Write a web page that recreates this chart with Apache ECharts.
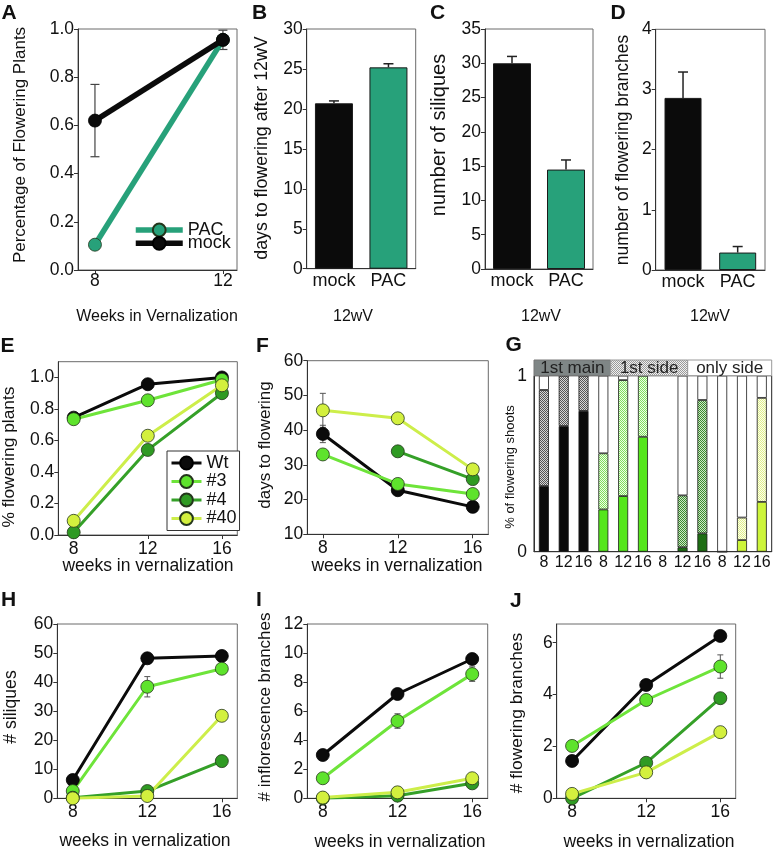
<!DOCTYPE html>
<html><head><meta charset="utf-8">
<script src="https://cdn.jsdelivr.net/npm/echarts@6/dist/echarts.min.js"></script>
<style>html,body{margin:0;padding:0;background:#fff}#c{width:774px;height:850px}</style>
</head><body><div id="c"></div>
<script>
// ---------------- data ----------------
const aWeeks = [8, 12];
const aMock = [0.62, 0.955];
const aMockErr = [0.15, 0.04];
const aPAC = [0.105, 0.955];
const aTicks = [0, 0.2, 0.4, 0.6, 0.8, 1.0];

const treatCats = ['mock', 'PAC'];
const bDays = [20.7, 25.2];
const bDaysErr = [0.3, 0.45];
const cSiliques = [30.0, 14.5];
const cSiliquesErr = [1.0, 1.4];
const dBranches = [2.86, 0.29];
const dBranchesErr = [0.43, 0.1];

const weeks = [8, 12, 16];
const lineNames = ['Wt', '#3', '#4', '#40'];
const eTicks = [0, 0.2, 0.4, 0.6, 0.8, 1.0];
const eWt = [0.745, 0.957, 1.0];
const e3 = [0.735, 0.855, 0.985];
const e4 = [0.017, 0.54, 0.9];
const e40 = [0.09, 0.63, 0.95];

const fWt = [38.9, 22.7, 17.9];
const fWtErr = [2.5, 0.8, 0.6];
const f3 = [33.0, 24.5, 21.6];
const f4 = [null, 33.9, 25.9];
const f40 = [45.7, 43.4, 28.7];
const f40Err = [4.9, 0.8, 1.0];

const hWt = [6.3, 48.2, 49.0];
const h3 = [2.5, 38.4, 44.6];
const h3Err = [0.5, 3.5, 1.0];
const h4 = [0.2, 2.5, 12.8];
const h40 = [0, 0.8, 28.4];

const iWt = [2.98, 7.18, 9.59];
const i3 = [1.38, 5.32, 8.55];
const i3Err = [0.2, 0.5, 0.5];
const i4 = [0, 0.18, 1.03];
const i40 = [0.05, 0.41, 1.38];

const jTicks = [0, 2, 4, 6];
const jWt = [1.44, 4.37, 6.26];
const j3 = [2.02, 3.79, 5.08];
const j3Err = [0.2, 0.2, 0.45];
const j4 = [0, 1.37, 3.86];
const j40 = [0.17, 1.0, 2.55];

const gWeekLabels = ['8','12','16','8','12','16','8','12','16','8','12','16'];
const gLine = ['Wt','Wt','Wt','#3','#3','#3','#4','#4','#4','#40','#40','#40'];
const gMain = [0.373, 0.714, 0.80, 0.24, 0.316, 0.653, null, 0.025, 0.104, 0, 0.066, 0.283];
const gSide = [0.546, 0.286, 0.20, 0.319, 0.659, 0.347, null, 0.295, 0.758, 0, 0.128, 0.591];
const gOnly = [0.081, 0, 0, 0.441, 0.025, 0, null, 0.68, 0.138, 1.0, 0.806, 0.126];
const gGroups = ['1st main', '1st side', 'only side'];

// ---------------- style ----------------
const FF = "'Liberation Sans', Arial, Helvetica, sans-serif";
const FS = 17.5;
const TEAL = '#27a17a';
const MARK = {'Wt':'#0b0b0b', '#3':'#5ee32c', '#4':'#2f9a23', '#40':'#d3f03e'};
const LINEC = {'Wt':'#0b0b0b', '#3':'#6ee43a', '#4':'#35a028', '#40':'#cdee4a'};
const GMAIN = {'Wt':'#0b0b0b', '#3':'#55e61c', '#4':'#1e6e14', '#40':'#cdf53a'};

function checker(c1, c2){
  const cv = document.createElement('canvas'); cv.width = 2; cv.height = 2;
  const x = cv.getContext('2d');
  x.fillStyle = c2; x.fillRect(0,0,2,2);
  x.fillStyle = c1; x.fillRect(0,0,1,1); x.fillRect(1,1,1,1);
  return {image: cv, repeat: 'repeat'};
}
const GSIDE = {'Wt':checker('#555','#d6d6d6'), '#3':checker('#7ee25a','#eefaea'), '#4':checker('#3a8c2e','#cfe8c8'), '#40':checker('#e0f08a','#fcfdf0')};

function grid(g){ return Object.assign({show:true, borderColor:'#6a6a6a', borderWidth:1, backgroundColor:'transparent', containLabel:false, outerBoundsMode:'none'}, g); }

function vAxis(gi, min, max, extra){
  const a = {type:'value', gridIndex:gi, min:min, max:max, splitLine:{show:false},
    axisLine:{show:true, onZero:false, lineStyle:{color:'#333', width:1}},
    axisTick:{show:true, length:4, inside:false, lineStyle:{color:'#333', width:1}},
    axisLabel:{fontFamily:FF, fontSize:FS, color:'#111', margin:4}};
  if (extra) for (const k in extra) {
    if (a[k] && typeof extra[k] === 'object' && !Array.isArray(extra[k])) Object.assign(a[k], extra[k]);
    else a[k] = extra[k];
  }
  return a;
}
function catAxis(gi, data, extra){
  const a = {type:'category', gridIndex:gi, data:data,
    axisLine:{show:true, onZero:false, lineStyle:{color:'#333', width:1}},
    axisTick:{show:false},
    axisLabel:{fontFamily:FF, fontSize:18, color:'#111', margin:3, interval:0}};
  if (extra) for (const k in extra) {
    if (a[k] && typeof extra[k] === 'object' && !Array.isArray(extra[k])) Object.assign(a[k], extra[k]);
    else a[k] = extra[k];
  }
  return a;
}

function errBars(ai, xs, ys, es, capW, upOnly, color, lw){
  const data = xs.map((x,i)=>[x, ys[i], es[i]]).filter(d => d[1] != null && d[2] > 0);
  return {type:'custom', xAxisIndex:ai, yAxisIndex:ai, data:data, z: upOnly ? 5 : 1, silent:true,
    renderItem:function(p, api){
      const x = api.value(0), y = api.value(1), e = api.value(2);
      const top = api.coord([x, y + e]);
      const bot = api.coord([x, upOnly ? y : y - e]);
      const st = {stroke:color, lineWidth:lw};
      const ch = [
        {type:'line', shape:{x1:top[0], y1:top[1], x2:bot[0], y2:bot[1]}, style:st},
        {type:'line', shape:{x1:top[0]-capW/2, y1:top[1], x2:top[0]+capW/2, y2:top[1]}, style:st}];
      if (!upOnly) ch.push({type:'line', shape:{x1:bot[0]-capW/2, y1:bot[1], x2:bot[0]+capW/2, y2:bot[1]}, style:st});
      return {type:'group', children:ch};
    }};
}

function lineSer(name, ai, xs, ys, color, lineColor, lw, size){
  return {type:'line', name:name, xAxisIndex:ai, yAxisIndex:ai,
    data: xs.map((w,i)=>[w, ys[i]]).filter(d => d[1] != null),
    symbol:'circle', symbolSize:size, showSymbol:true,
    lineStyle:{color:lineColor, width:lw},
    itemStyle:{color:color, borderColor: (name==='Wt'||name==='mock') ? '#000' : '#24361c', borderWidth:0.8},
    emphasis:{disabled:true}, z:2};
}

function barSer(ai, vals, width){
  return {type:'bar', xAxisIndex:ai, yAxisIndex:ai, barWidth:width, z:2,
    data: vals.map((v,i)=>({value:v, itemStyle:{color: i ? TEAL : '#0b0b0b'}})),
    itemStyle:{borderColor:'#1a1a1a', borderWidth:1}, emphasis:{disabled:true}};
}

const grids = [
  grid({left:78, top:29, width:159, height:241}),        // A 0
  grid({left:306.7, top:29, width:109, height:239.7}),   // B 1
  grid({left:485, top:29, width:108, height:240}),       // C 2
  grid({left:655.7, top:29.3, width:109.3, height:240.7}), // D 3
  grid({left:58.3, top:361.7, width:179, height:173.3}), // E 4
  grid({left:307.3, top:360.7, width:181, height:173.6}),// F 5
  grid({left:534, top:375.7, width:237.7, height:176, borderColor:'#222'}), // G 6
  grid({left:57.3, top:624, width:180, height:174.3}),   // H 7
  grid({left:307.3, top:624, width:180.4, height:174.3}),// I 8
  grid({left:556.7, top:624, width:179, height:174.3})   // J 9
];

const XMIN = 7.17, XMAX = 16.83;
const wkAxis = gi => vAxis(gi, XMIN, XMAX, {axisTick:{customValues:weeks}, axisLabel:{customValues:weeks, margin:5}});

const xAxes = [
  vAxis(0, 7.47, 12.44, {axisTick:{customValues:aWeeks}, axisLabel:{customValues:aWeeks, margin:2}}),
  catAxis(1, treatCats), catAxis(2, treatCats), catAxis(3, treatCats),
  wkAxis(4), wkAxis(5),
  catAxis(6, gWeekLabels.map((w,i)=>gLine[i]+' '+w), {axisLabel:{fontSize:16, margin:3, interval:0, formatter:(v,i)=>gWeekLabels[i]}}),
  wkAxis(7), wkAxis(8), wkAxis(9)
];
const yAxes = [
  vAxis(0, 0, 1, {interval:0.2, axisLabel:{formatter:v=>v.toFixed(1)}}),
  vAxis(1, 0, 30, {interval:5}),
  vAxis(2, 0, 35, {interval:5}),
  vAxis(3, 0, 4, {interval:1}),
  vAxis(4, 0, 1.1, {axisTick:{customValues:eTicks}, axisLabel:{customValues:eTicks, formatter:v=>v.toFixed(1)}}),
  vAxis(5, 10, 60, {interval:10}),
  vAxis(6, 0, 1, {interval:1, axisTick:{show:false}, axisLabel:{margin:7}}),
  vAxis(7, 0, 60, {interval:10}),
  vAxis(8, 0, 12, {interval:2}),
  vAxis(9, 0, 6.72, {axisTick:{customValues:jTicks}, axisLabel:{customValues:jTicks}})
];

const series = [];
// A
series.push(errBars(0, aWeeks, aMock, aMockErr, 9, false, '#444', 1.2));
series.push(lineSer('PAC', 0, aWeeks, aPAC, TEAL, TEAL, 5.5, 13));
series.push(lineSer('mock', 0, aWeeks, aMock, '#0b0b0b', '#0b0b0b', 5.5, 13));
// B, C, D
series.push(barSer(1, bDays, 38)); series.push(errBars(1, [0,1], bDays, bDaysErr, 10, true, '#222', 1.5));
series.push(barSer(2, cSiliques, 38)); series.push(errBars(2, [0,1], cSiliques, cSiliquesErr, 10, true, '#222', 1.5));
series.push(barSer(3, dBranches, 37)); series.push(errBars(3, [0,1], dBranches, dBranchesErr, 10, true, '#222', 1.5));
// line panels
const panels = [
  {ai:4, vals:[eWt, e3, e4, e40], errs:[]},
  {ai:5, vals:[fWt, f3, f4, f40], errs:[[fWt, fWtErr], [f40, f40Err]]},
  {ai:7, vals:[hWt, h3, h4, h40], errs:[[h3, h3Err]]},
  {ai:8, vals:[iWt, i3, i4, i40], errs:[[i3, i3Err]]},
  {ai:9, vals:[jWt, j3, j4, j40], errs:[[j3, j3Err]]}
];
panels.forEach(p => {
  p.errs.forEach(e => series.push(errBars(p.ai, weeks, e[0], e[1], 6, false, '#555', 1)));
  p.vals.forEach((v, k) => {
    const n = lineNames[k];
    series.push(lineSer(n, p.ai, weeks, v, MARK[n], LINEC[n], 3, 13));
  });
});
// G stacked bars
const gBar = (vals, colorFn) => ({type:'bar', xAxisIndex:6, yAxisIndex:6, stack:'g', barWidth:10, z:2,
  data: vals.map((v,i)=> v == null ? '-' : {value:v, itemStyle:{color: colorFn(i)}}),
  itemStyle:{borderColor:'#1a1a1a', borderWidth:0.8}, emphasis:{disabled:true}});
series.push(gBar(gMain, i => GMAIN[gLine[i]]));
series.push(gBar(gSide, i => GSIDE[gLine[i]]));
series.push(gBar(gOnly, i => '#ffffff'));

// ---------------- texts ----------------
function T(text, x, y, size, o){
  o = o || {};
  return {type:'text', x:x, y:y, rotation:o.rot||0, z:50, silent:true,
    style:{text:text, x:0, y:0, fontFamily:FF, fontSize:size, fontWeight:o.bold?'bold':'normal',
      fill:o.fill||'#111', align:o.align||'center', verticalAlign:'middle'}};
}
const R = Math.PI/2;
const graphic = [
  T('A', 1.5, 13, 21, {bold:true, align:'left'}),
  T('B', 252, 13, 21, {bold:true, align:'left'}),
  T('C', 430, 13, 21, {bold:true, align:'left'}),
  T('D', 610.5, 13, 21, {bold:true, align:'left'}),
  T('E', 0.5, 346, 21, {bold:true, align:'left'}),
  T('F', 256, 346, 21, {bold:true, align:'left'}),
  T('G', 505.5, 345, 21, {bold:true, align:'left'}),
  T('H', 1, 600.5, 21, {bold:true, align:'left'}),
  T('I', 256, 600.5, 21, {bold:true, align:'left'}),
  T('J', 510, 601, 21, {bold:true, align:'left'}),
  T('Percentage of Flowering Plants', 20, 145, 17, {rot:R}),
  T('days to flowering after 12wV', 262.5, 148, 17.8, {rot:R}),
  T('number of siliques', 439, 135, 20, {rot:R}),
  T('number of flowering branches', 623.5, 150, 17.5, {rot:R}),
  T('% flowering plants', 9.5, 457, 17.4, {rot:R}),
  T('days to flowering', 265.5, 445, 17, {rot:R}),
  T('% of flowering shoots', 510, 467, 13, {rot:R}),
  T('# siliques', 11, 707, 17.6, {rot:R}),
  T('# inflorescence branches', 265.5, 707, 17, {rot:R}),
  T('# flowering branches', 517.5, 713, 17.4, {rot:R}),
  T('Weeks in Vernalization', 157, 317, 16),
  T('12wV', 353, 317, 16), T('12wV', 541, 317, 16), T('12wV', 710, 317, 16),
  T('weeks in vernalization', 148, 566, 17.5),
  T('weeks in vernalization', 397, 566, 17.5),
  T('weeks in vernalization', 145, 841, 17.5),
  T('weeks in vernalization', 400, 842, 17.5),
  T('weeks in vernalization', 649, 842, 17.5),
  // G header band
  {type:'rect', shape:{x:534, y:360, width:76.7, height:15.7}, style:{fill:'#7f8686', stroke:'#777', lineWidth:1}, z:40, silent:true},
  {type:'rect', shape:{x:610.7, y:360, width:77, height:15.7}, style:{fill:checker('#9a9a9a','#f0f0f0'), stroke:'#999', lineWidth:1}, z:40, silent:true},
  {type:'rect', shape:{x:687.7, y:360, width:84, height:15.7}, style:{fill:'#ffffff', stroke:'#999', lineWidth:1}, z:40, silent:true},
  T(gGroups[0], 572.3, 368.5, 17, {fill:'#222'}),
  T(gGroups[1], 649.2, 368.5, 17, {fill:'#222'}),
  T(gGroups[2], 729.7, 368.5, 17, {fill:'#222'})
];

const legendBase = {selectedMode:false, itemGap:0, padding:0, itemWidth:47, itemHeight:16,
  lineStyle:{width:5.5}, textStyle:{fontFamily:FF, fontSize:18, color:'#111', lineHeight:18}};

const option = {
  animation:false,
  backgroundColor:'#ffffff',
  grid: grids,
  xAxis: xAxes,
  yAxis: yAxes,
  series: series,
  legend: [
    Object.assign({}, legendBase, {data:['PAC'], left:133, top:221}),
    Object.assign({}, legendBase, {data:['mock'], left:133, top:234.3}),
    {data:lineNames, selectedMode:false, orient:'vertical', left:167, top:451, padding:[3,3,3,3], itemGap:0.5,
     itemWidth:30, itemHeight:16, lineStyle:{width:3}, backgroundColor:'#fff', borderColor:'#333', borderWidth:1,
     textStyle:{fontFamily:FF, fontSize:18, color:'#111', lineHeight:17.2}}
  ],
  graphic: graphic
};
const chart = echarts.init(document.getElementById('c'), null, {renderer:'canvas', width:774, height:850});
chart.setOption(option);
</script>
</body></html>
